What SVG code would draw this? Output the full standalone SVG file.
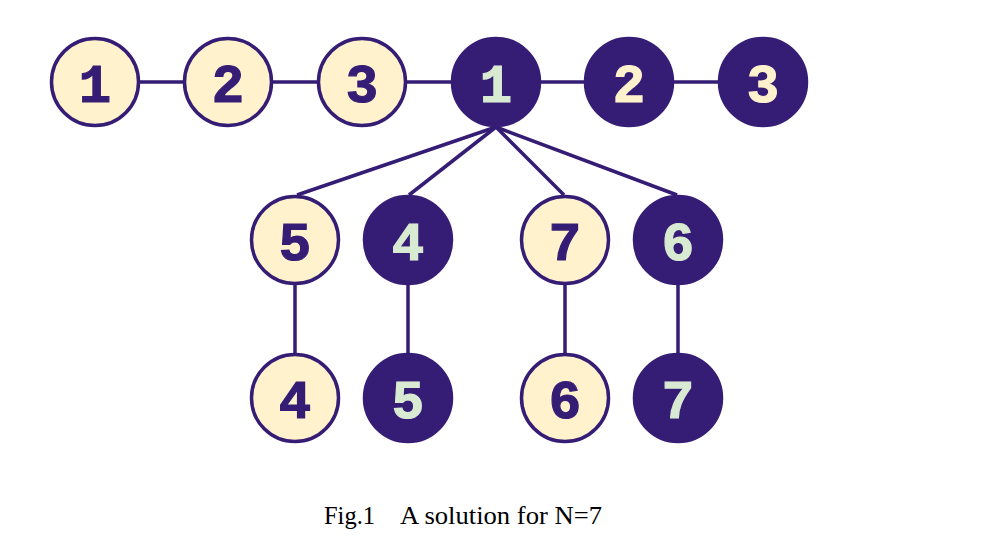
<svg xmlns="http://www.w3.org/2000/svg" width="982" height="551" viewBox="0 0 982 551">
<style>
.edge{stroke:#351c75;stroke-width:3.5;fill:none}
.lt circle{fill:#fff2cc;stroke:#351c75;stroke-width:3.5}
.dk circle{fill:#351c75;stroke:#351c75;stroke-width:3.5}
.num{font-family:"Liberation Mono","DejaVu Sans Mono",monospace;font-weight:bold;font-size:54px;text-anchor:middle;stroke-width:1.2;paint-order:stroke}
.lt text{fill:#351c75;stroke:#351c75}
.dk text{fill:#d9ead3;stroke:#d9ead3}
.dk text.y{fill:#fff2cc;stroke:#fff2cc}
.cap{font-family:"Liberation Serif",serif;font-size:25px;fill:#000}
</style>
<rect width="982" height="551" fill="#fff"/>
<g id="connectors">
<line class="edge" x1="95" y1="82" x2="763" y2="82"/>
<line class="edge" x1="496" y1="127" x2="297" y2="195"/>
<line class="edge" x1="496" y1="127" x2="409" y2="195"/>
<line class="edge" x1="496" y1="127" x2="564" y2="195"/>
<line class="edge" x1="496" y1="127" x2="677" y2="195"/>
<line class="edge" x1="295" y1="240" x2="295" y2="398"/>
<line class="edge" x1="408" y1="240" x2="408" y2="398"/>
<line class="edge" x1="565" y1="240" x2="565" y2="398"/>
<line class="edge" x1="678" y1="240" x2="678" y2="398"/>
</g>
<g id="a1" class="lt"><circle cx="95" cy="82" r="43.5"/><text class="num" x="95" y="102">1</text></g>
<g id="a2" class="lt"><circle cx="228" cy="82" r="43.5"/><text class="num" x="228" y="102">2</text></g>
<g id="a3" class="lt"><circle cx="362" cy="82" r="43.5"/><text class="num" x="362" y="102">3</text></g>
<g id="b1" class="dk"><circle cx="496" cy="82" r="43.5"/><text class="num" x="496" y="102">1</text></g>
<g id="b2" class="dk"><circle cx="629" cy="82" r="43.5"/><text class="num y" x="629" y="102">2</text></g>
<g id="b3" class="dk"><circle cx="763" cy="82" r="43.5"/><text class="num y" x="763" y="102">3</text></g>
<g id="m5" class="lt"><circle cx="295" cy="240" r="43.5"/><text class="num" x="295" y="260">5</text></g>
<g id="m4" class="dk"><circle cx="408" cy="240" r="43.5"/><text class="num" x="408" y="260">4</text></g>
<g id="m7" class="lt"><circle cx="565" cy="240" r="43.5"/><text class="num" x="565" y="260">7</text></g>
<g id="m6" class="dk"><circle cx="678" cy="240" r="43.5"/><text class="num" x="678" y="260">6</text></g>
<g id="l4" class="lt"><circle cx="295" cy="398" r="43.5"/><text class="num" x="295" y="418">4</text></g>
<g id="l5" class="dk"><circle cx="408" cy="398" r="43.5"/><text class="num" x="408" y="418">5</text></g>
<g id="l6" class="lt"><circle cx="565" cy="398" r="43.5"/><text class="num" x="565" y="418">6</text></g>
<g id="l7" class="dk"><circle cx="678" cy="398" r="43.5"/><text class="num" x="678" y="418">7</text></g>
<g id="caption">
<text class="cap" x="324" y="524" textLength="51" lengthAdjust="spacingAndGlyphs">Fig.1</text>
<text class="cap" x="400" y="524" textLength="202" lengthAdjust="spacingAndGlyphs">A solution for N=7</text>
</g>
</svg>
